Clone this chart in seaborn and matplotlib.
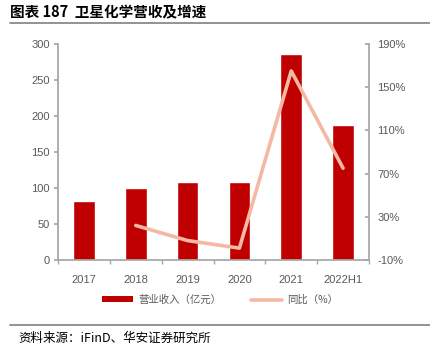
import matplotlib
matplotlib.use("Agg")
import matplotlib.pyplot as plt
import seaborn as sns
import pandas as pd
from matplotlib.lines import Line2D
from matplotlib.patches import Patch

categories = ["2017", "2018", "2019", "2020", "2021", "2022H1"]
revenue = [82, 100, 108, 108, 286, 188]
growth_years = ["2018", "2019", "2020", "2021", "2022H1"]
growth = [22, 8, 1, 165, 75]
left_ticks = [0, 50, 100, 150, 200, 250, 300]
right_ticks = [-10, 30, 70, 110, 150, 190]

sns.set_theme(style="white")
plt.rcParams['font.family'] = ['Noto Sans CJK SC', 'DejaVu Sans']

bar_color = "#C00000"
line_color = "#F4B9A3"
gray = "#595959"
spine = "#A6A6A6"
num_font = ['Liberation Sans', 'DejaVu Sans']

fig = plt.figure(figsize=(4.3, 3.52), dpi=100)
ax = fig.add_axes([58/430, 1-260/352, (369-58)/430, (260-44)/352])

df = pd.DataFrame({"cat": categories, "rev": revenue})
sns.barplot(data=df, x="cat", y="rev", color=bar_color, width=0.42, ax=ax,
            saturation=1, order=categories)
ax.set_xlim(-0.5, len(categories) - 0.5)
ax.set_ylim(0, 300)
ax.set_yticks(left_ticks)
ax.set_xlabel("")
ax.set_ylabel("")

ax2 = ax.twinx()
gdf = pd.DataFrame({"cat": growth_years, "g": growth})
gdf["x"] = [categories.index(c) for c in growth_years]
sns.lineplot(data=gdf, x="x", y="g", color=line_color, linewidth=2.6, ax=ax2)
ax2.set_ylim(-10, 190)
ax2.set_yticks(right_ticks)
ax2.set_yticklabels([f"{t}%" for t in right_ticks])
ax2.set_ylabel("")
ax2.set_xlabel("")
ax.set_xlim(-0.5, len(categories) - 0.5)

for a in (ax, ax2):
    for s in a.spines.values():
        s.set_visible(False)
ax.spines['left'].set_visible(True)
ax.spines['left'].set_color(spine)
ax.spines['bottom'].set_visible(True)
ax.spines['bottom'].set_color(spine)
ax2.spines['right'].set_visible(True)
ax2.spines['right'].set_color(spine)

ax.tick_params(axis='y', left=True, length=3, color=spine, labelsize=8, labelcolor=gray, pad=3)
ax.tick_params(axis='x', bottom=False, labelsize=8, labelcolor=gray, pad=5)
ax.set_xticks(range(len(categories)))
ax.set_xticks([i + 0.5 for i in range(-1, len(categories))], minor=True)
ax.tick_params(axis='x', which='minor', bottom=True, length=3, color=spine)
ax2.tick_params(axis='y', right=True, direction='in', length=3, color=spine, labelsize=8, labelcolor=gray, pad=6)
ax.grid(False)
ax2.grid(False)
for lab in ax.get_xticklabels() + ax.get_yticklabels() + ax2.get_yticklabels():
    lab.set_fontfamily(num_font)

# title and rules
fig.text(10/430, 1-12/352, "图表 187  卫星化学营收及增速", fontsize=10.5, fontweight='bold',
         color='black', va='center', ha='left')
fig.add_artist(Line2D([10/430, 430/430], [1-23/352, 1-23/352], color="#808080", linewidth=1.2))
fig.add_artist(Line2D([10/430, 430/430], [1-325/352, 1-325/352], color="#808080", linewidth=1.2))
fig.text(18/430, 1-338/352, "资料来源：iFinD、华安证券研究所", fontsize=9, color='black',
         va='center', ha='left')

handles = [Patch(facecolor=bar_color, edgecolor='none'),
           Line2D([0], [0], color=line_color, linewidth=2.6)]
labels = ["营业收入（亿元）", "同比（%）"]
fig.legend(handles, labels, loc='center', bbox_to_anchor=(220/430, 1-300/352), ncol=2,
           frameon=False, fontsize=7.5, labelcolor=gray, handlelength=3.0,
           handleheight=0.5, columnspacing=2.8, handletextpad=0.5)

fig.savefig("out.png", dpi=100)
